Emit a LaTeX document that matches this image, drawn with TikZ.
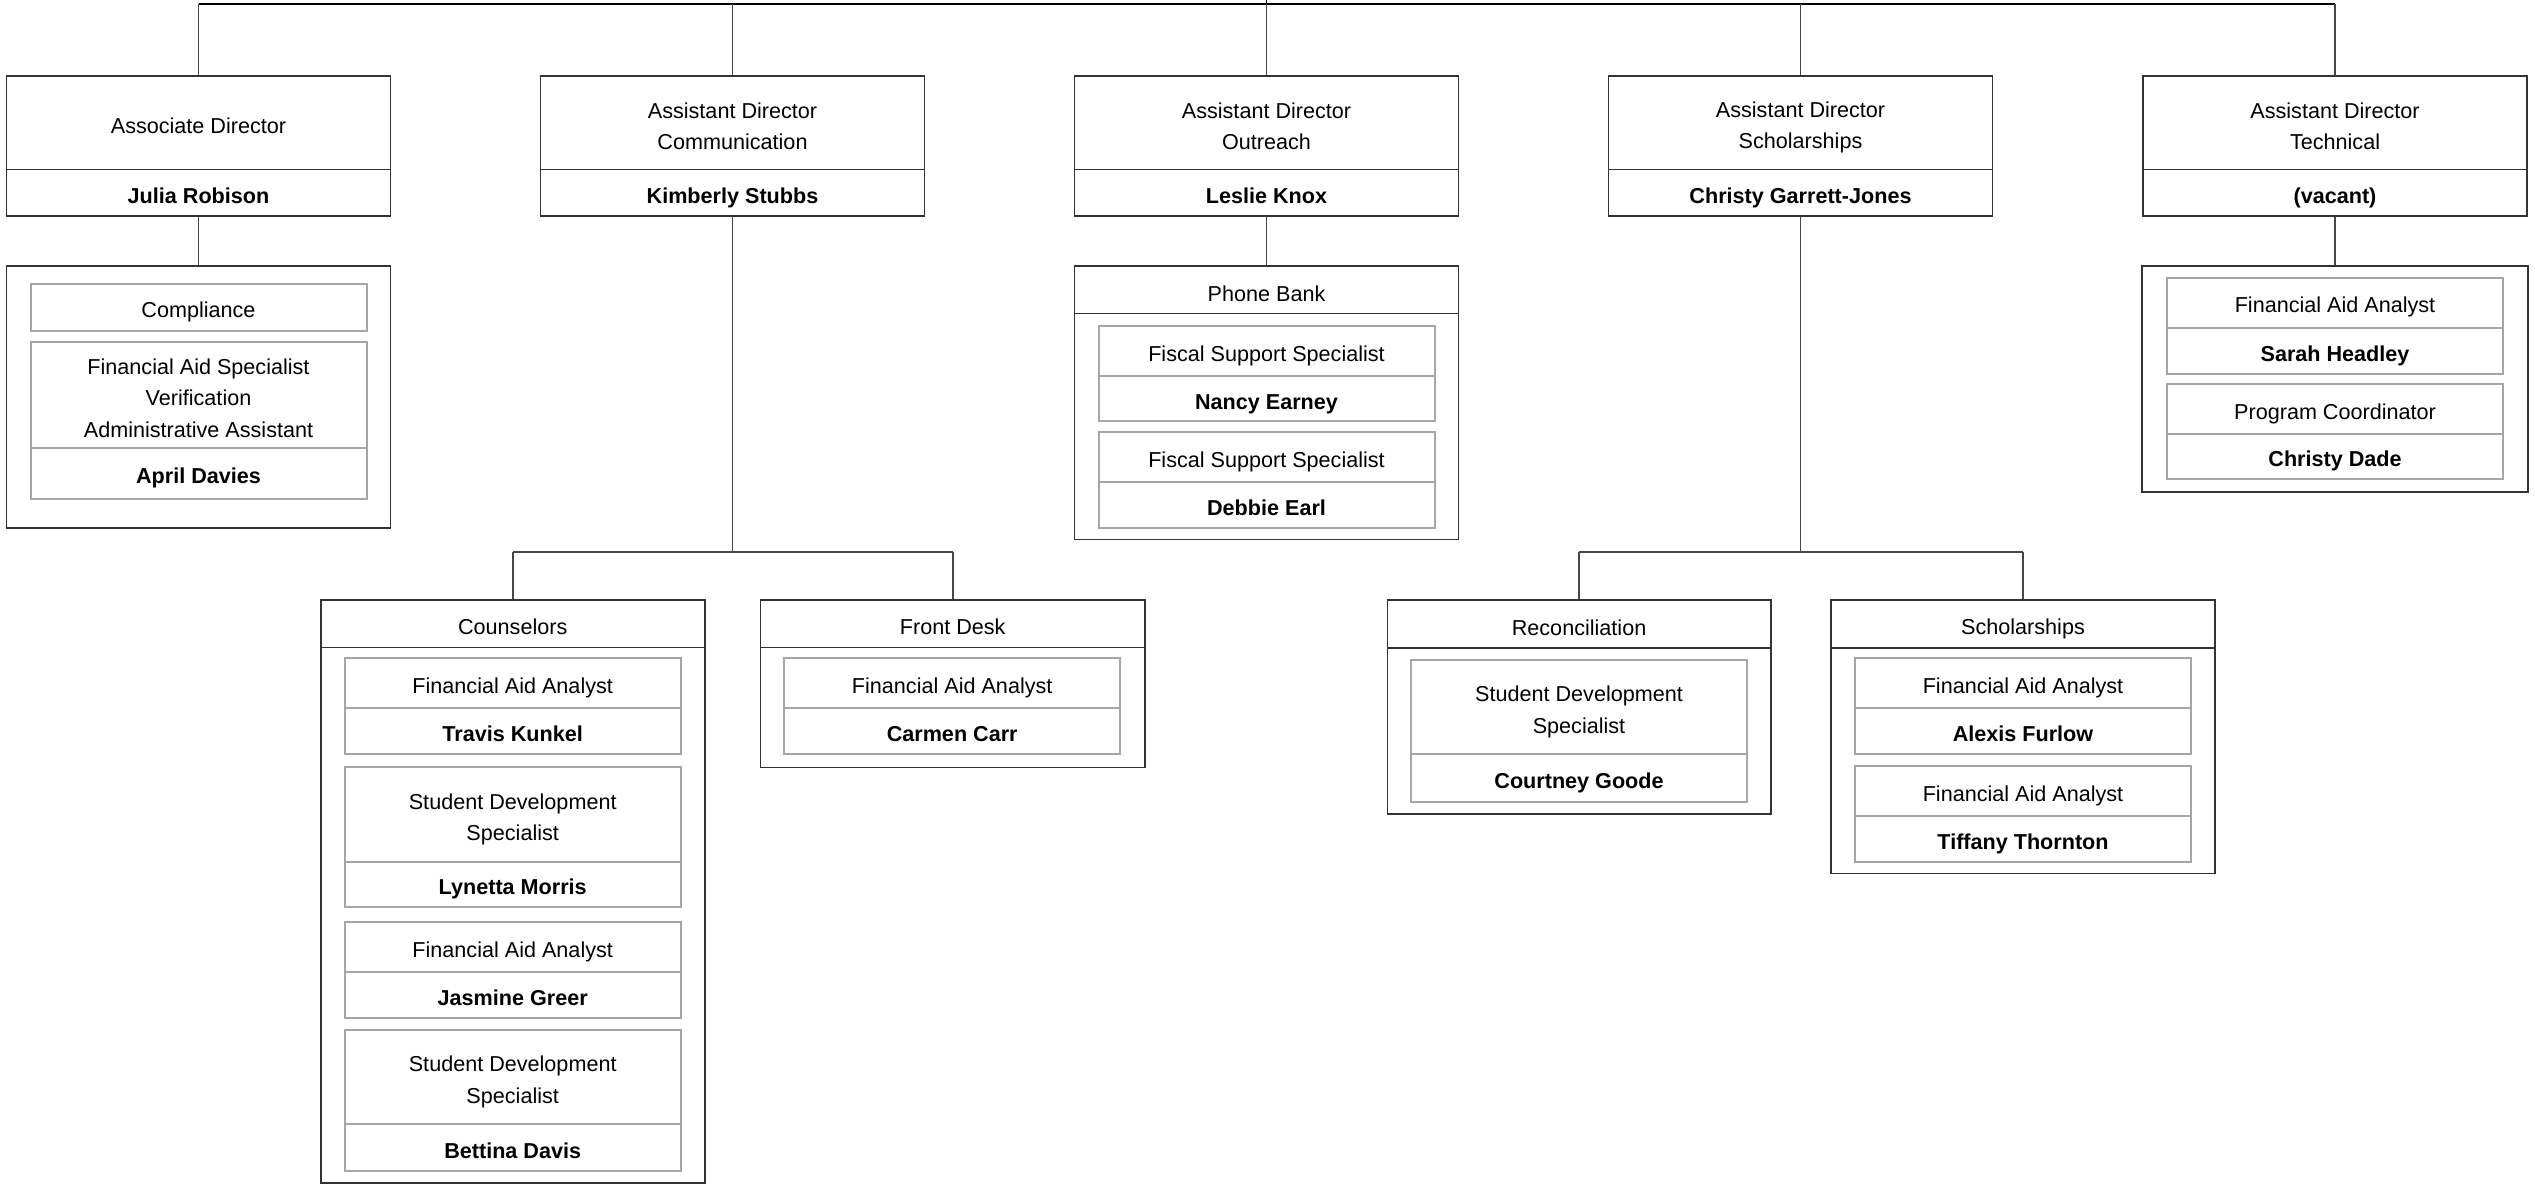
\documentclass[tikz,border=0pt]{standalone}
\usepackage{fontspec}
\setmainfont{Liberation Sans}
\newcommand\tstrut{\rule[-1.5pt]{0pt}{14.2pt}}
\begin{document}
\begin{tikzpicture}[x=0.5pt,y=-0.5pt,
  base/.style={inner sep=0pt, align=center, fill=white,
    font={\fontsize{10.8}{15.7}\selectfont}},
  outer/.style={base, draw=black!80, line width=0.8pt},
  inner/.style={base, draw=black!35, line width=1pt},
  nm/.style={font={\fontsize{10.8}{15.7}\selectfont\bfseries}},
  conn/.style={draw=black!72, line width=0.8pt},
  hl/.style={draw=black, line width=0.9pt}]
\useasboundingbox (0,0) rectangle (2535,1184);
\newcommand\bx[7]{\node[#2, minimum width={(#5-#3)*0.5pt}, minimum height={(#6-#4)*0.5pt}] (#1) at ({(#3+#5)/2},{(#4+#6)/2}) {\tstrut#7\tstrut};}
\newcommand\ebx[6]{\node[#2, minimum width={(#5-#3)*0.5pt}, minimum height={(#6-#4)*0.5pt}] (#1) at ({(#3+#5)/2},{(#4+#6)/2}) {};}

% ---------- directors ----------
\bx{d1t}{outer}{6.5}{75.7}{390.5}{169.6}{Associate Director}
\bx{d1n}{outer,nm}{6.5}{169.6}{390.5}{215.7}{Julia Robison}
\bx{d2t}{outer}{540.5}{75.7}{924.5}{169.6}{Assistant Director\\Communication}
\bx{d2n}{outer,nm}{540.5}{169.6}{924.5}{215.7}{Kimberly Stubbs}
\bx{d3t}{outer}{1074.5}{75.7}{1458.5}{169.6}{Assistant Director\\Outreach}
\bx{d3n}{outer,nm}{1074.5}{169.6}{1458.5}{215.7}{Leslie Knox}
\bx{d4t}{outer}{1608.5}{75.7}{1992.5}{169.6}{Assistant Director\\Scholarships}
\bx{d4n}{outer,nm}{1608.5}{169.6}{1992.5}{215.7}{Christy Garrett-Jones}
\bx{d5t}{outer}{2143}{75.7}{2527}{169.6}{Assistant Director\\Technical}
\bx{d5n}{outer,nm}{2143}{169.6}{2527}{215.7}{(vacant)}

% ---------- associate director staff ----------
\ebx{c1}{outer}{6.5}{266}{390.5}{528}
\bx{comp}{inner}{30.5}{283.6}{366.5}{331.4}{Compliance}
\bx{fast}{inner}{30.5}{341.8}{366.5}{447.5}{Financial Aid Specialist\\Verification\\Administrative Assistant}
\bx{fasn}{inner,nm}{30.5}{447.5}{366.5}{499.3}{April Davies}

% ---------- phone bank ----------
\bx{pbh}{outer}{1074.5}{266}{1458.5}{313.6}{Phone Bank}
\ebx{pbb}{outer}{1074.5}{313.6}{1458.5}{539.3}
\bx{pb1t}{inner}{1098.5}{325.7}{1434.5}{375.7}{Fiscal Support Specialist}
\bx{pb1n}{inner,nm}{1098.5}{375.7}{1434.5}{421.4}{Nancy Earney}
\bx{pb2t}{inner}{1098.5}{431.8}{1434.5}{481.8}{Fiscal Support Specialist}
\bx{pb2n}{inner,nm}{1098.5}{481.8}{1434.5}{527.5}{Debbie Earl}

% ---------- technical ----------
\ebx{c5}{outer}{2142}{266}{2528}{491.8}
\bx{t1t}{inner}{2167}{277.5}{2503}{327.5}{Financial Aid Analyst}
\bx{t1n}{inner,nm}{2167}{327.5}{2503}{373.6}{Sarah Headley}
\bx{t2t}{inner}{2167}{383.6}{2503}{433.6}{Program Coordinator}
\bx{t2n}{inner,nm}{2167}{433.6}{2503}{479.3}{Christy Dade}

% ---------- counselors ----------
\bx{couh}{outer}{320.7}{600}{704.7}{647.5}{Counselors}
\ebx{coub}{outer}{320.7}{647.5}{704.7}{1182.8}
\bx{k1t}{inner}{344.7}{657.9}{680.7}{707.6}{Financial Aid Analyst}
\bx{k1n}{inner,nm}{344.7}{707.6}{680.7}{753.8}{Travis Kunkel}
\bx{k2t}{inner}{344.7}{767.3}{680.7}{861.6}{Student Development\\Specialist}
\bx{k2n}{inner,nm}{344.7}{861.6}{680.7}{907.4}{Lynetta Morris}
\bx{k3t}{inner}{344.7}{921.7}{680.7}{971.9}{Financial Aid Analyst}
\bx{k3n}{inner,nm}{344.7}{971.9}{680.7}{1017.6}{Jasmine Greer}
\bx{k4t}{inner}{344.7}{1030}{680.7}{1123.9}{Student Development\\Specialist}
\bx{k4n}{inner,nm}{344.7}{1123.9}{680.7}{1171.2}{Bettina Davis}

% ---------- front desk ----------
\bx{fdh}{outer}{760.4}{600}{1145}{647.5}{Front Desk}
\ebx{fdb}{outer}{760.4}{647.5}{1145}{767.3}
\bx{f1t}{inner}{784.2}{657.9}{1120.2}{707.6}{Financial Aid Analyst}
\bx{f1n}{inner,nm}{784.2}{707.6}{1120.2}{753.8}{Carmen Carr}

% ---------- reconciliation ----------
\bx{rch}{outer}{1387.3}{600}{1770.8}{647.7}{Reconciliation}
\ebx{rcb}{outer}{1387.3}{647.7}{1770.8}{814}
\bx{r1t}{inner}{1411}{659.7}{1747}{754}{Student Development\\Specialist}
\bx{r1n}{inner,nm}{1411}{754}{1747}{802}{Courtney Goode}

% ---------- scholarships ----------
\bx{sch}{outer}{1831}{600}{2215}{647.7}{Scholarships}
\ebx{scb}{outer}{1831}{647.7}{2215}{873.3}
\bx{s1t}{inner}{1855}{658.3}{2191}{707.7}{Financial Aid Analyst}
\bx{s1n}{inner,nm}{1855}{707.7}{2191}{753.7}{Alexis Furlow}
\bx{s2t}{inner}{1855}{766}{2191}{815.7}{Financial Aid Analyst}
\bx{s2n}{inner,nm}{1855}{815.7}{2191}{861.7}{Tiffany Thornton}

% ---------- connectors ----------
\coordinate (root) at (1266.5,0);
\coordinate (top) at (1266.5,3.6);
\coordinate (j2) at (732.5,552);
\coordinate (j4) at (1800.5,552);
\draw[hl] (root) -- (top);
\draw[hl] (d1t.north |- top) -- (d5t.north |- top);
\foreach \d in {d1t,d2t,d3t,d4t,d5t} \draw[conn] (\d.north |- top) -- (\d.north);
\draw[conn] (d1n.south) -- (c1.north);
\draw[conn] (d3n.south) -- (pbh.north);
\draw[conn] (d5n.south) -- (c5.north);
\draw[conn] (d2n.south) -- (j2);
\draw[conn] (couh.north |- j2) -- (fdh.north |- j2);
\draw[conn] (couh.north |- j2) -- (couh.north);
\draw[conn] (fdh.north |- j2) -- (fdh.north);
\draw[conn] (d4n.south) -- (j4);
\draw[conn] (rch.north |- j4) -- (sch.north |- j4);
\draw[conn] (rch.north |- j4) -- (rch.north);
\draw[conn] (sch.north |- j4) -- (sch.north);
\end{tikzpicture}
\end{document}
